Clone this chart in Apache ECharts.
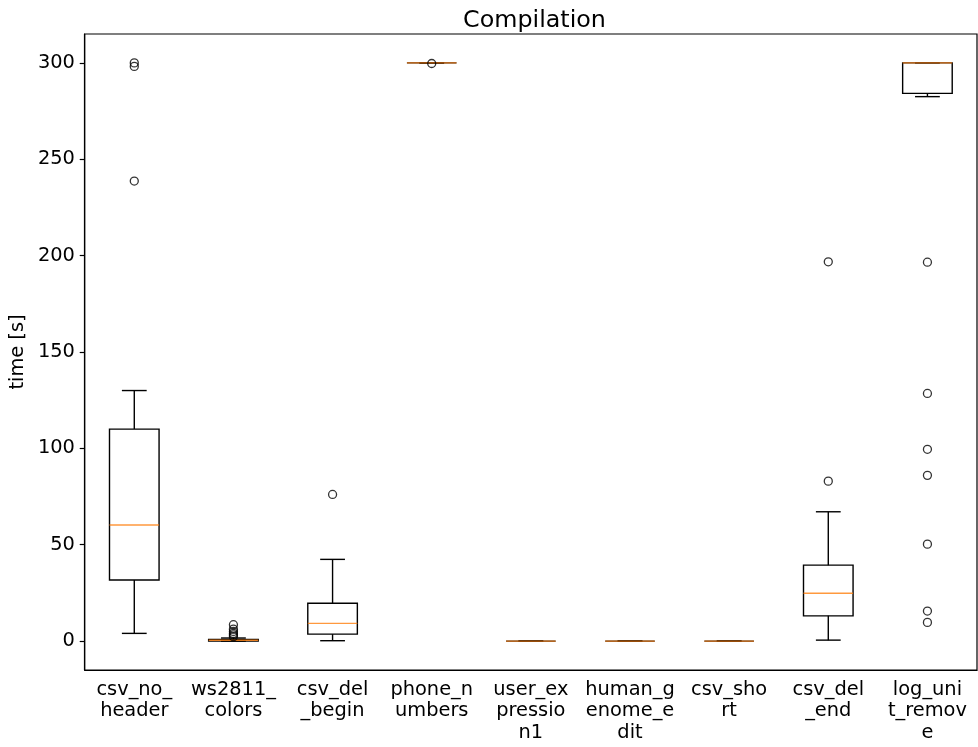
<!DOCTYPE html>
<html>
<head>
<meta charset="utf-8">
<script src="https://cdn.jsdelivr.net/npm/echarts@6/dist/echarts.min.js"></script>
<style>
html,body{margin:0;padding:0;background:#fff;}
#chart{width:978px;height:747px;}
</style>
</head>
<body>
<div id="chart"></div>
<script>
const categories = ['csv_no_header','ws2811_colors','csv_del_begin','phone_numbers','user_expression1','human_genome_edit','csv_short','csv_del_end','log_unit_remove'];
const whiskerLow  = [4.0, 0,   0.2, 300, 0, 0, 0, 0.5,  282.5];
const q1          = [31.7, 0,  3.6, 300, 0, 0, 0, 13.1, 284.2];
const median      = [60.2, 0.4, 9.2, 300, 0, 0, 0, 24.8, 300];
const q3          = [110, 0.9, 19.6, 300, 0, 0, 0, 39.4, 300];
const whiskerHigh = [130, 1.6, 42.4, 300, 0, 0, 0, 67.1, 300];
const outliers = [
  [300, 298.2, 238.7],
  [2.3, 3.2, 4.0, 5.0, 6.2, 8.5],
  [76.1],
  [299.7],
  [],
  [],
  [],
  [83.0, 196.8],
  [196.6, 128.5, 99.5, 86.0, 50.3, 15.6, 9.7]
];
const yTicks = [0, 50, 100, 150, 200, 250, 300];

const boxData = categories.map((c, i) => [i, whiskerLow[i], q1[i], median[i], q3[i], whiskerHigh[i]]);
const flierData = [];
outliers.forEach((arr, i) => arr.forEach(v => flierData.push([i, v])));

const FONT = 'DejaVu Sans';
const chart = echarts.init(document.getElementById('chart'), null, {renderer: 'canvas'});

function renderBox(params, api) {
  const idx = api.value(0);
  const band = api.size([1, 0])[0];
  const half = band * 0.25;
  const capHalf = band * 0.125;
  const pLow = api.coord([idx, api.value(1)]);
  const pQ1 = api.coord([idx, api.value(2)]);
  const pMed = api.coord([idx, api.value(3)]);
  const pQ3 = api.coord([idx, api.value(4)]);
  const pHigh = api.coord([idx, api.value(5)]);
  const x = pQ1[0];
  const black = {stroke: '#000', lineWidth: 1.4, fill: null};
  return {
    type: 'group',
    children: [
      {type: 'line', shape: {x1: x, y1: pQ1[1], x2: x, y2: pLow[1]}, style: black},
      {type: 'line', shape: {x1: x, y1: pQ3[1], x2: x, y2: pHigh[1]}, style: black},
      {type: 'line', shape: {x1: x - capHalf, y1: pLow[1], x2: x + capHalf, y2: pLow[1]}, style: black},
      {type: 'line', shape: {x1: x - capHalf, y1: pHigh[1], x2: x + capHalf, y2: pHigh[1]}, style: black},
      {type: 'rect', shape: {x: x - half, y: pQ3[1], width: half * 2, height: pQ1[1] - pQ3[1]}, style: {stroke: '#000', lineWidth: 1.4, fill: 'none'}},
      {type: 'line', shape: {x1: x - half, y1: pMed[1], x2: x + half, y2: pMed[1]}, style: {stroke: '#ff7f0e', lineWidth: 1.4, opacity: 0.8}}
    ]
  };
}

chart.setOption({
  animation: false,
  backgroundColor: '#fff',
  title: {
    text: 'Compilation',
    left: 529.5,
    textAlign: 'center',
    top: 4,
    textStyle: {fontFamily: FONT, fontSize: 23.8, fontWeight: 'normal', color: '#000'}
  },
  grid: {left: 82, right: 1, top: 34, bottom: 77, show: true, borderColor: '#000', borderWidth: 1.2, backgroundColor: 'transparent'},
  xAxis: {
    type: 'category',
    data: categories,
    boundaryGap: true,
    axisLine: {onZero: false, lineStyle: {color: '#000', width: 1.2}},
    axisTick: {alignWithLabel: true, length: 5, lineStyle: {color: '#000', width: 1.2}},
    axisLabel: {
      interval: 0,
      margin: 9,
      fontFamily: FONT,
      fontSize: 19.4,
      lineHeight: 21.6,
      color: '#000',
      formatter: function (v) { return v.match(/.{1,7}/g).join('\n'); }
    },
    splitLine: {show: false}
  },
  yAxis: {
    type: 'value',
    min: -15,
    max: 315,
    name: 'time [s]',
    nameLocation: 'middle',
    nameGap: 43,
    nameTextStyle: {fontFamily: FONT, fontSize: 19.4, color: '#000'},
    axisLine: {show: true, onZero: false, lineStyle: {color: '#000', width: 1.2}},
    axisTick: {show: true, length: 5, customValues: yTicks, lineStyle: {color: '#000', width: 1.2}},
    axisLabel: {customValues: yTicks, margin: 9.8, fontFamily: FONT, fontSize: 19.4, color: '#000'},
    splitLine: {show: false}
  },
  series: [
    {
      type: 'custom',
      name: 'box',
      renderItem: renderBox,
      encode: {x: 0, y: [1, 2, 3, 4, 5]},
      data: boxData,
      z: 2
    },
    {
      type: 'scatter',
      name: 'fliers',
      data: flierData,
      symbol: 'circle',
      symbolSize: 8,
      itemStyle: {color: 'transparent', borderColor: '#000', borderWidth: 1.3},
      z: 3
    }
  ]
});
</script>
</body>
</html>
